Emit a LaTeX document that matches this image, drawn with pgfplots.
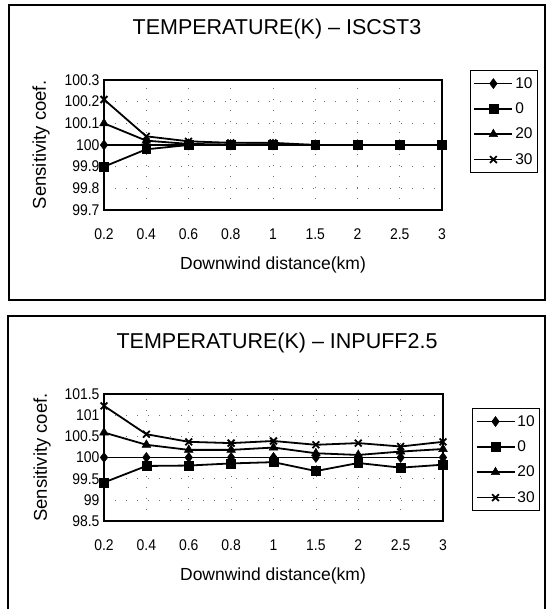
\documentclass[border=0pt]{standalone}
\usepackage{fontspec}
\setmainfont{Liberation Sans}
\newfontfamily\tickfont{Liberation Sans}[FakeStretch=0.9]
\usepackage{pgfplots}
\usepackage{pgfplotstable}
\pgfplotsset{compat=1.18}

% Sensitivity coefficients vs. downwind distance, temperature perturbation (%)
\pgfplotstableread{
x s10 s0 s20 s30
0 100 99.90 100.10 100.21
1 100 99.98 100.02 100.04
2 100 100.00 100.005 100.017
3 100 100.00 100.002 100.01
4 100 100.00 100.004 100.01
5 100 100.00 100.00 100.00
6 100 100.00 100.00 100.00
7 100 100.00 100.00 100.00
8 100 100.00 100.00 100.00
}\iscst

\pgfplotstableread{
x s10 s0 s20 s30
0 100 99.41 100.59 101.22
1 100 99.80 100.30 100.55
2 100 99.81 100.18 100.37
3 100 99.86 100.18 100.34
4 100 99.89 100.235 100.39
5 100 99.68 100.10 100.30
6 100 99.87 100.06 100.34
7 100 99.76 100.14 100.26
8 100 99.83 100.20 100.37
}\inpuff

\pgfplotsset{
  ser10/.style={black, solid, line width=1.8pt, mark=diamond*, mark size=5pt,
    mark options={solid, line width=0.5pt}},
  ser0/.style={black, solid, line width=1.8pt, mark=square*, mark size=4.4pt,
    mark options={solid, line width=0.5pt}},
  ser20/.style={black, solid, line width=1.8pt, mark=triangle*, mark size=5pt,
    mark options={solid, line width=0.5pt}},
  ser30/.style={black, solid, line width=1.8pt, mark=x, mark size=4.8pt,
    mark options={solid, line width=1.8pt}},
  panel/.style={
    scale only axis,
    anchor=south west,
    xmin=0, xmax=8,
    xtick={0,...,8},
    xticklabels={0.2,0.4,0.6,0.8,1,1.5,2,2.5,3},
    clip=false,
    axis line style={line width=1.3pt},
    major tick length=0pt,
    grid=major,
    major grid style={black!55, line width=0.6pt, dash pattern=on 1pt off 10pt},
    /pgf/number format/assume math mode=true,
    tick label style={font=\tickfont\fontsize{15.5}{18}\selectfont},
    xticklabel style={yshift=-15pt},
    yticklabel style={xshift=-1pt, /pgf/number format/fixed, /pgf/number format/precision=1},
    legend cell align=left,
    legend image code/.code={%
      \draw[mark repeat=2, mark phase=2, ##1, line width=1.8pt]
        plot coordinates {(0pt,0pt) (19pt,0pt) (38pt,0pt)};},
    legend style={draw=black, line width=0.9pt, anchor=north west,
      font=\fontsize{15.5}{18}\selectfont,
      inner xsep=3pt, inner ysep=5pt, row sep=9pt},
  },
}

\begin{document}
\begin{tikzpicture}
\useasboundingbox (0pt,0pt) rectangle (547pt,609pt);

% panel frames
\draw[line width=1.4pt] (9pt,604pt) rectangle (545pt,309pt);
\draw[line width=1.4pt] (8pt,0pt) -- (8pt,293pt) -- (545pt,293pt) -- (545pt,0pt);

% upper panel: ISCST3
\node[font=\fontsize{21.5}{25}\selectfont] at (277pt,580pt) {TEMPERATURE(K) – ISCST3};
\node[font=\fontsize{17.5}{21}\selectfont] at (273pt,344pt) {Downwind distance(km)};
\node[font=\fontsize{18.5}{21}\selectfont, rotate=90] at (41pt,464pt) {Sensitivity coef.};
\begin{axis}[panel,
  at={(104pt,399pt)}, width=338pt, height=130pt,
  ymin=99.7, ymax=100.3,
  ytick={99.7,99.8,99.9,100,100.1,100.2,100.3},
  legend style={at={(axis description cs:1.083,1.077)}}]
  \addplot[ser30, forget plot] table[x=x, y=s30] {\iscst};
  \addplot[ser20, forget plot] table[x=x, y=s20] {\iscst};
  \addplot[ser10, forget plot] table[x=x, y=s10] {\iscst};
  \addplot[ser0, forget plot] table[x=x, y=s0] {\iscst};
  \addlegendimage{ser10}\addlegendentry{10}
  \addlegendimage{ser0}\addlegendentry{0}
  \addlegendimage{ser20}\addlegendentry{20}
  \addlegendimage{ser30}\addlegendentry{30}
\end{axis}

% lower panel: INPUFF2.5
\node[font=\fontsize{21.5}{25}\selectfont] at (277pt,266pt) {TEMPERATURE(K) – INPUFF2.5};
\node[font=\fontsize{17.5}{21}\selectfont] at (273pt,33pt) {Downwind distance(km)};
\node[font=\fontsize{18.5}{21}\selectfont, rotate=90] at (42pt,151.5pt) {Sensitivity coef.};
\begin{axis}[panel,
  at={(104pt,88pt)}, width=339pt, height=127pt,
  ymin=98.5, ymax=101.5,
  ytick={98.5,99,99.5,100,100.5,101,101.5},
  legend style={at={(axis description cs:1.086,0.890)}}]
  \addplot[ser30, forget plot] table[x=x, y=s30] {\inpuff};
  \addplot[ser20, forget plot] table[x=x, y=s20] {\inpuff};
  \addplot[ser10, forget plot] table[x=x, y=s10] {\inpuff};
  \addplot[ser0, forget plot] table[x=x, y=s0] {\inpuff};
  \addlegendimage{ser10}\addlegendentry{10}
  \addlegendimage{ser0}\addlegendentry{0}
  \addlegendimage{ser20}\addlegendentry{20}
  \addlegendimage{ser30}\addlegendentry{30}
\end{axis}
\end{tikzpicture}
\end{document}
